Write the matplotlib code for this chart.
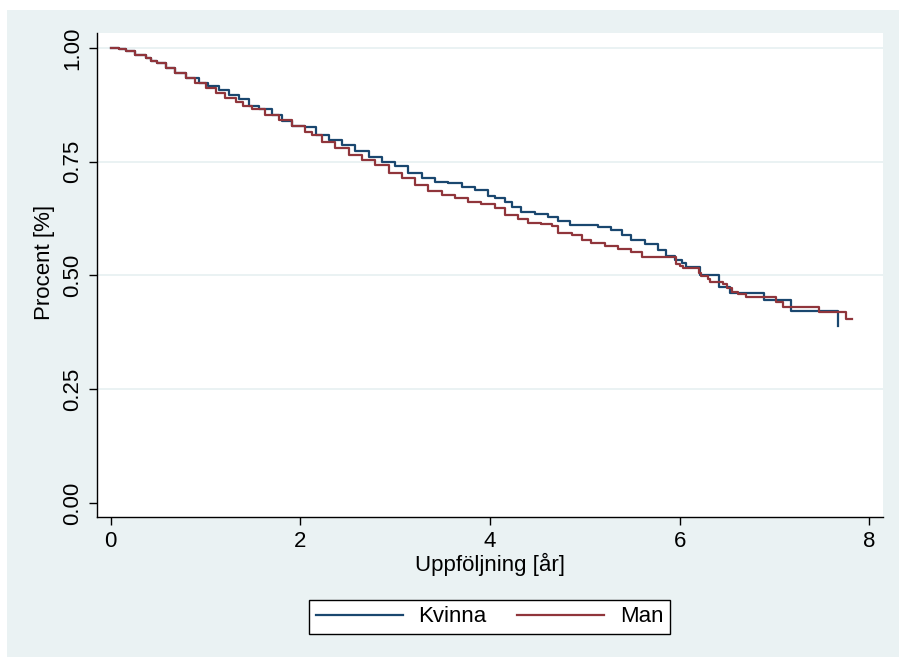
import matplotlib
matplotlib.use("Agg")
import matplotlib.pyplot as plt
from matplotlib.patches import Rectangle

plt.rcParams['font.family'] = ['Liberation Sans', 'DejaVu Sans']

# Kaplan-Meier estimates, time in years
kvinna_t = [0.00, 0.09, 0.16, 0.26, 0.37, 0.42, 0.49, 0.58, 0.68, 0.79, 0.93, 1.03,
            1.14, 1.25, 1.35, 1.46, 1.56, 1.70, 1.81, 1.91, 2.05, 2.16, 2.30, 2.44,
            2.58, 2.72, 2.86, 3.00, 3.14, 3.28, 3.42, 3.56, 3.70, 3.84, 3.98, 4.05,
            4.16, 4.23, 4.33, 4.47, 4.61, 4.72, 4.84, 5.14, 5.28, 5.39, 5.49, 5.63,
            5.77, 5.86, 5.95, 6.02, 6.07, 6.21, 6.42, 6.53, 6.89, 7.17, 7.67]
kvinna_s = [1.000, 0.998, 0.993, 0.985, 0.977, 0.972, 0.967, 0.956, 0.945, 0.935, 0.922, 0.916,
            0.907, 0.897, 0.888, 0.873, 0.866, 0.853, 0.840, 0.829, 0.827, 0.809, 0.798, 0.787,
            0.774, 0.761, 0.750, 0.741, 0.726, 0.714, 0.706, 0.704, 0.695, 0.688, 0.675, 0.670,
            0.662, 0.650, 0.640, 0.635, 0.629, 0.620, 0.611, 0.607, 0.600, 0.589, 0.578, 0.569,
            0.556, 0.543, 0.535, 0.527, 0.519, 0.501, 0.475, 0.462, 0.446, 0.422, 0.389]

man_t = [0.00, 0.09, 0.16, 0.26, 0.37, 0.42, 0.49, 0.58, 0.68, 0.79, 0.89, 1.00,
         1.11, 1.21, 1.32, 1.40, 1.49, 1.63, 1.77, 1.91, 2.05, 2.12, 2.23, 2.37,
         2.51, 2.65, 2.79, 2.93, 3.07, 3.21, 3.35, 3.49, 3.63, 3.77, 3.91, 4.05,
         4.16, 4.30, 4.40, 4.54, 4.65, 4.72, 4.86, 4.97, 5.07, 5.21, 5.35, 5.49,
         5.60, 5.96, 6.00, 6.04, 6.20, 6.23, 6.30, 6.32, 6.46, 6.50, 6.55, 6.62,
         6.70, 7.02, 7.09, 7.47, 7.76, 7.82]
man_s = [1.000, 0.998, 0.993, 0.985, 0.977, 0.971, 0.966, 0.955, 0.944, 0.934, 0.924, 0.911,
         0.900, 0.890, 0.881, 0.873, 0.865, 0.853, 0.842, 0.829, 0.815, 0.808, 0.794, 0.780,
         0.765, 0.754, 0.743, 0.726, 0.714, 0.699, 0.686, 0.677, 0.670, 0.662, 0.657, 0.648,
         0.633, 0.624, 0.616, 0.613, 0.609, 0.593, 0.589, 0.578, 0.571, 0.565, 0.558, 0.552,
         0.540, 0.525, 0.521, 0.516, 0.505, 0.499, 0.492, 0.486, 0.481, 0.472, 0.464, 0.459,
         0.452, 0.442, 0.431, 0.419, 0.404, 0.404]

x_ticks = [0, 2, 4, 6, 8]
y_ticks = [0.00, 0.25, 0.50, 0.75, 1.00]
y_ticklabels = ["0.00", "0.25", "0.50", "0.75", "1.00"]

W, H = 899, 657
fig = plt.figure(figsize=(W / 100, H / 100), dpi=100, facecolor='white')
# graph region behind the plot area
fig.patches.append(Rectangle((7 / W, 0), 1, 1 - 10 / H, transform=fig.transFigure,
                             facecolor='#EAF2F3', edgecolor='none', zorder=-5))

ax = fig.add_axes([97 / W, (H - 517) / H, (883 - 97) / W, (517 - 33) / H])
ax.set_facecolor('white')

for y in y_ticks[1:]:
    ax.axhline(y, color='#EAF2F3', lw=1.4, zorder=1)

ax.plot(kvinna_t, kvinna_s, drawstyle='steps-post', color='#1A476F', lw=1.6,
        label='Kvinna', zorder=3)
ax.plot(man_t, man_s, drawstyle='steps-post', color='#90353B', lw=1.6,
        label='Man', zorder=4)

ax.set_xlim(-0.145, 8.145)
ax.set_ylim(-0.031, 1.033)
ax.set_xticks(x_ticks)
ax.set_yticks(y_ticks)
ax.set_yticklabels(y_ticklabels, rotation=90, va='center')
ax.tick_params(axis='both', direction='out', length=6, width=1, labelsize=16,
               colors='black', pad=4)

for side in ['top', 'right']:
    ax.spines[side].set_visible(False)
for side in ['left', 'bottom']:
    ax.spines[side].set_linewidth(1)
    ax.spines[side].set_color('black')

ax.set_xlabel('Uppföljning [år]', fontsize=16, labelpad=1)
ax.set_ylabel('Procent [%]', fontsize=16)
ax.yaxis.set_label_coords(-0.054, 0.525)

leg = fig.legend(loc='center', bbox_to_anchor=(489.5 / W, 1 - 617 / H), ncol=2,
                 fontsize=16, frameon=True, fancybox=False, framealpha=1,
                 handlelength=3.9, handletextpad=0.7, columnspacing=1.4, borderpad=0.3)
leg.get_frame().set_edgecolor('black')
leg.get_frame().set_linewidth(1)
leg.get_frame().set_facecolor('white')
for line in leg.get_lines():
    line.set_linewidth(1.6)

fig.savefig('out.png', dpi=100, facecolor='white')
